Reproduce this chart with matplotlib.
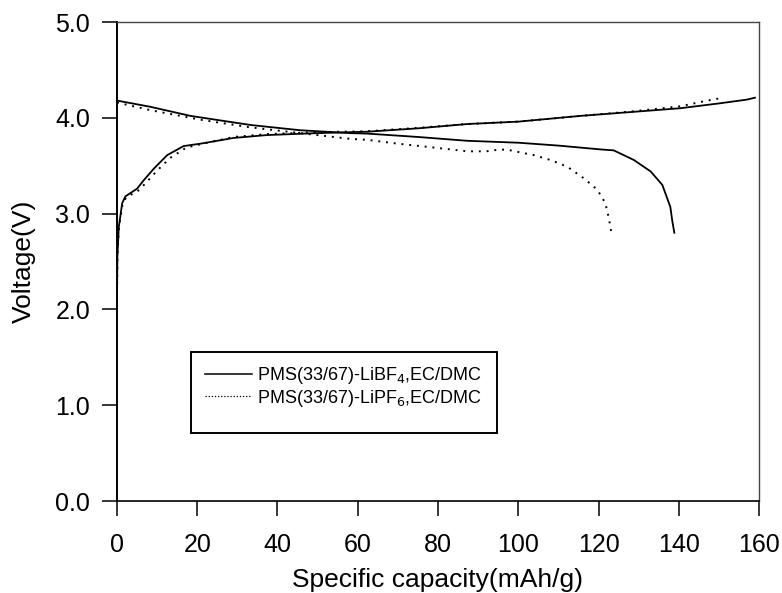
import numpy as np
import matplotlib.pyplot as plt
from matplotlib.patches import Rectangle

plt.rcParams['font.family'] = ['Liberation Sans', 'DejaVu Sans']

# charge / discharge curves, capacity in mAh/g and voltage in V
bf4_chg_cap = [0.0, 0.1, 0.45, 1.3, 2.1, 5.0, 6.7, 9.2, 12.5, 16.6, 20.8, 29.1, 37.4,
               49.9, 62.4, 75.0, 87.3, 100.0, 115.5, 128.0, 140.4, 150.0, 157.0, 159.0]
bf4_chg_v = [2.10, 2.55, 2.86, 3.11, 3.18, 3.26, 3.35, 3.47, 3.61, 3.705, 3.73, 3.79, 3.82,
             3.84, 3.855, 3.89, 3.935, 3.96, 4.02, 4.06, 4.10, 4.15, 4.19, 4.21]
bf4_dis_cap = [0.0, 8.3, 18.3, 33.3, 45.7, 58.2, 62.4, 75.0, 87.3, 100.0, 110.0, 120.5,
               123.8, 128.8, 133.0, 135.9, 137.9, 138.4, 138.9]
bf4_dis_v = [4.18, 4.115, 4.02, 3.925, 3.87, 3.84, 3.835, 3.80, 3.76, 3.74, 3.71, 3.67,
             3.66, 3.56, 3.44, 3.30, 3.07, 2.92, 2.80]

pf6_chg_cap = [0.0, 0.1, 0.5, 1.4, 2.3, 5.3, 7.2, 9.8, 13.2, 17.3, 21.5, 29.1, 37.4,
               49.9, 62.4, 75.0, 87.3, 100.0, 115.5, 128.0, 140.4, 146.0, 151.0]
pf6_chg_v = [2.10, 2.55, 2.86, 3.10, 3.17, 3.24, 3.32, 3.44, 3.58, 3.69, 3.73, 3.80, 3.83,
             3.85, 3.86, 3.895, 3.935, 3.96, 4.02, 4.065, 4.12, 4.17, 4.21]
pf6_dis_cap = [0.0, 8.3, 20.8, 33.3, 45.7, 58.2, 62.4, 70.0, 78.9, 87.3, 92.0, 95.6,
               98.1, 103.9, 108.0, 112.2, 116.3, 119.7, 121.7, 122.6, 123.2]
pf6_dis_v = [4.16, 4.08, 3.98, 3.90, 3.84, 3.78, 3.77, 3.73, 3.69, 3.65, 3.65, 3.67,
             3.66, 3.61, 3.56, 3.49, 3.37, 3.25, 3.11, 2.95, 2.80]

labels = ['PMS(33/67)-LiBF$_4$,EC/DMC', 'PMS(33/67)-LiPF$_6$,EC/DMC']

fig = plt.figure(figsize=(7.82, 5.93), dpi=100)
ax = fig.add_axes([0.1496, 0.1551, 0.8210, 0.8078])

dots = (0, (1, 3))
l1, = ax.plot(bf4_chg_cap, bf4_chg_v, color='black', lw=1.3)
ax.plot(bf4_dis_cap, bf4_dis_v, color='black', lw=1.3)
l2, = ax.plot(pf6_chg_cap, pf6_chg_v, color='black', lw=1.4, linestyle=dots)
ax.plot(pf6_dis_cap, pf6_dis_v, color='black', lw=1.4, linestyle=dots)

ax.set_xlim(0, 160)
ax.set_ylim(0, 5)
ax.set_xticks(np.arange(0, 161, 20))
ax.set_yticks(np.arange(0, 5.1, 1.0))
ax.set_yticklabels(['%.1f' % v for v in np.arange(0, 5.1, 1.0)])
ax.tick_params(axis='x', direction='out', length=10.8, width=1.1, labelsize=18, pad=12)
ax.tick_params(axis='y', direction='out', length=10.8, width=1.1, labelsize=18, pad=8.5)

ax.spines['left'].set_linewidth(1.4)
ax.spines['bottom'].set_linewidth(1.2)
for s in ['top', 'right']:
    ax.spines[s].set_linewidth(1.0)
    ax.spines[s].set_color('#444444')

ax.set_xlabel('Specific capacity(mAh/g)', fontsize=19, labelpad=8)
ax.set_ylabel('Voltage(V)', fontsize=19, labelpad=14)

# legend box drawn by hand so its padding can be set freely
ax.add_patch(Rectangle((0.115, 0.142), 0.477, 0.169, transform=ax.transAxes,
                       fill=False, edgecolor='black', lw=1.4, zorder=3))
leg = ax.legend([l1, l2], labels, loc='upper left', bbox_to_anchor=(0.137, 0.284),
                frameon=False, fontsize=13, handlelength=2.6, handletextpad=0.3,
                labelspacing=0.1, borderaxespad=0, borderpad=0)
leg.get_lines()[0].set_linewidth(1.1)
leg.get_lines()[1].set_linestyle((0, (1, 1.5)))
leg.get_lines()[1].set_linewidth(0.9)

fig.savefig('out.png', dpi=100)
